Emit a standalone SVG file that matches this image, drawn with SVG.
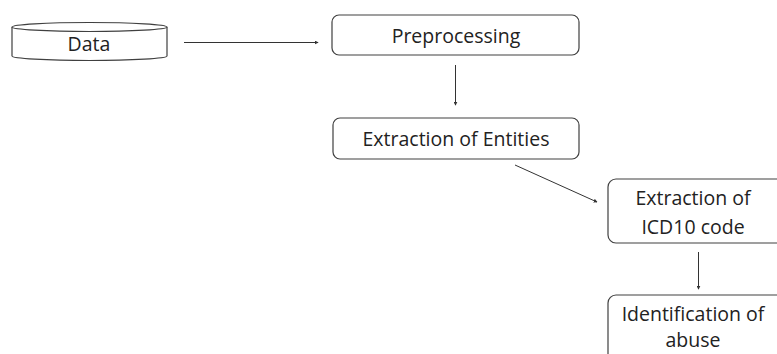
<svg xmlns="http://www.w3.org/2000/svg" width="777" height="354" viewBox="0 0 777 354">
<defs>
<style>
.box{fill:#fff;stroke:#404040;stroke-width:1.2}
.t{font-family:"Open Sans","Liberation Sans",sans-serif;font-size:19.5px;fill:#222;text-anchor:middle}
.c{stroke:#333;stroke-width:1;fill:none;marker-end:url(#ah)}
</style>
<marker id="ah" viewBox="0 0 6 6" refX="5" refY="3" markerWidth="4" markerHeight="4" orient="auto" markerUnits="userSpaceOnUse">
<path d="M0,0 L6,3 L0,6 z" fill="#333"/>
</marker>
</defs>
<rect width="777" height="354" fill="#fff"/>
<g id="connectors">
<line class="c" x1="184" y1="42.5" x2="318" y2="42.5"/>
<line class="c" x1="455.5" y1="65" x2="455.5" y2="105"/>
<line class="c" x1="515" y1="165" x2="597" y2="202"/>
<line class="c" x1="698.5" y1="252" x2="698.5" y2="289"/>
</g>
<g id="data">
<path class="box" d="M12,27 L12,56 A77.5,4.5 0 0 0 167,56 L167,27"/>
<ellipse class="box" cx="89.5" cy="27" rx="77.5" ry="4.5"/>
<text class="t" x="89" y="51">Data</text>
</g>
<g id="preprocessing">
<rect class="box" x="332" y="15" width="247" height="40" rx="7"/>
<text class="t" x="456" y="43">Preprocessing</text>
</g>
<g id="entities">
<rect class="box" x="333" y="118" width="246" height="41" rx="7"/>
<text class="t" x="456" y="146">Extraction of Entities</text>
</g>
<g id="icd10">
<rect class="box" x="608" y="179" width="185" height="64" rx="8"/>
<text class="t" x="693" y="205">Extraction of</text>
<text class="t" x="693" y="234">ICD10 code</text>
</g>
<g id="abuse">
<rect class="box" x="608" y="295" width="185" height="80" rx="8"/>
<text class="t" x="693" y="321">Identification of</text>
<text class="t" x="693" y="347">abuse</text>
</g>
</svg>
